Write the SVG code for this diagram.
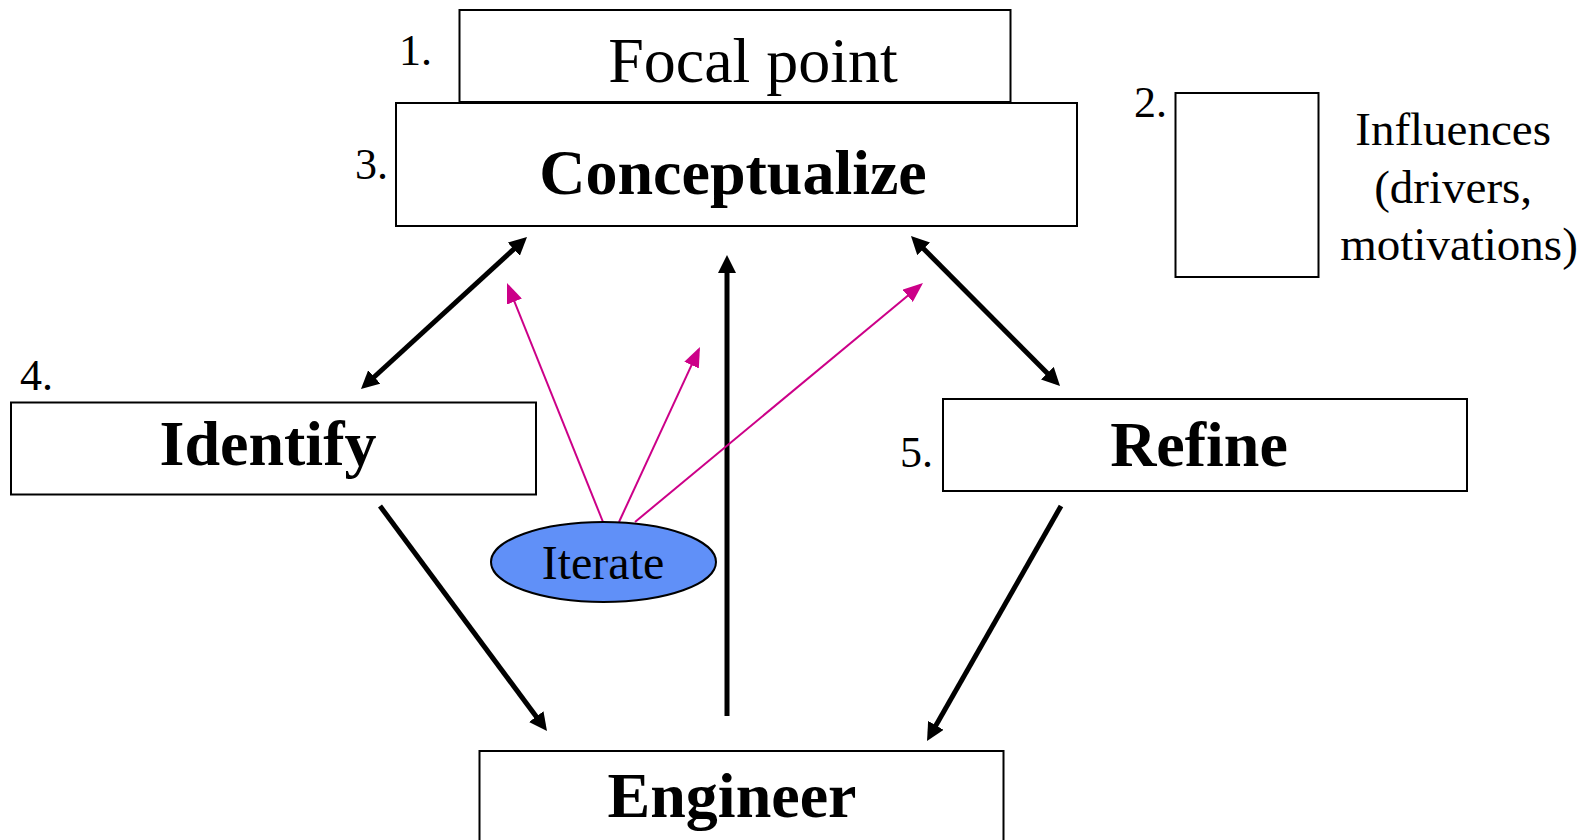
<svg xmlns="http://www.w3.org/2000/svg" width="1590" height="840" viewBox="0 0 1590 840">
<style>
  .box { fill: #ffffff; stroke: #000000; stroke-width: 2; }
  .t { font-family: "Liberation Serif", "Times New Roman", serif; fill: #000000; }
  .big { font-size: 64px; font-weight: bold; text-anchor: middle; }
  .num { font-size: 44px; }
  .blk { stroke: #000000; stroke-width: 5; fill: none; }
  .mag { stroke: #CC0088; stroke-width: 2; fill: none; }
</style>
<defs>
  <marker id="ah" markerUnits="userSpaceOnUse" markerWidth="18" markerHeight="18" refX="12" refY="9" orient="auto-start-reverse">
    <path d="M0,0 L18,9 L0,18 z" fill="#000000"/>
  </marker>
  <marker id="mh" markerUnits="userSpaceOnUse" markerWidth="20" markerHeight="16" refX="17" refY="8" orient="auto">
    <path d="M0,0 L20,8 L0,16 z" fill="#CC0088"/>
  </marker>
</defs>
<rect width="1590" height="840" fill="#ffffff"/>

<g id="focal-point">
  <rect class="box" x="459.5" y="10" width="551" height="92"/>
  <text class="t" x="753" y="82" font-size="64" text-anchor="middle">Focal point</text>
  <text class="t num" x="399" y="65">1.</text>
</g>

<g id="conceptualize">
  <rect class="box" x="396" y="103" width="681" height="123"/>
  <text class="t big" x="733" y="194">Conceptualize</text>
  <text class="t num" x="355" y="179">3.</text>
</g>

<g id="influences">
  <rect class="box" x="1175.5" y="93" width="143" height="184"/>
  <text class="t num" x="1134" y="117">2.</text>
  <text class="t" font-size="47" text-anchor="middle">
    <tspan x="1459" y="145">Influences</tspan>
    <tspan x="1459" y="203">(drivers,</tspan>
    <tspan x="1459" y="260">motivations)</tspan>
  </text>
</g>

<g id="identify">
  <rect class="box" x="11" y="402.5" width="525" height="92"/>
  <text class="t big" x="268" y="465">Identify</text>
  <text class="t num" x="20" y="390">4.</text>
</g>

<g id="refine">
  <rect class="box" x="943" y="399" width="524" height="92"/>
  <text class="t big" x="1199" y="466">Refine</text>
  <text class="t num" x="900" y="467">5.</text>
</g>

<g id="engineer">
  <rect class="box" x="479.5" y="751" width="524" height="100"/>
  <text class="t big" x="732" y="817">Engineer</text>
</g>

<g id="connectors">
  <line class="blk" x1="522.6" y1="241.1" x2="365.4" y2="385" marker-start="url(#ah)" marker-end="url(#ah)"/>
  <line class="blk" x1="915.2" y1="240.3" x2="1055.8" y2="381.7" marker-start="url(#ah)" marker-end="url(#ah)"/>
  <line class="blk" x1="380" y1="506" x2="543.4" y2="726.2" marker-end="url(#ah)"/>
  <line class="blk" x1="1061" y1="506" x2="930" y2="735.8" marker-end="url(#ah)"/>
  <line class="blk" x1="727" y1="716" x2="727" y2="261" marker-end="url(#ah)"/>
  <line class="mag" x1="603" y1="522" x2="508.1" y2="285.8" marker-end="url(#mh)"/>
  <line class="mag" x1="619" y1="522" x2="698.7" y2="349.7" marker-end="url(#mh)"/>
  <line class="mag" x1="635" y1="522" x2="920.7" y2="284.9" marker-end="url(#mh)"/>
</g>

<g id="iterate">
  <ellipse cx="603.5" cy="562" rx="112.5" ry="40" fill="#6090F8" stroke="#000000" stroke-width="2"/>
  <text class="t" x="603" y="579" font-size="48" text-anchor="middle">Iterate</text>
</g>
</svg>
